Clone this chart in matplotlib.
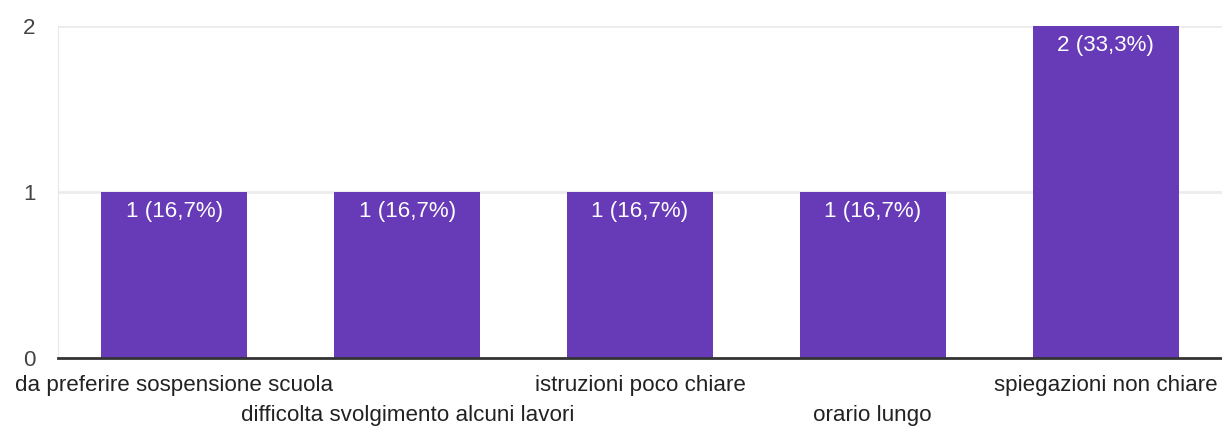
import matplotlib
matplotlib.use("Agg")
import matplotlib.pyplot as plt

categories = ["da preferire sospensione scuola", "difficolta svolgimento alcuni lavori",
              "istruzioni poco chiare", "orario lungo", "spiegazioni non chiare"]
values = [1, 1, 1, 1, 2]
labels = ["1 (16,7%)", "1 (16,7%)", "1 (16,7%)", "1 (16,7%)", "2 (33,3%)"]
yticks = [0, 1, 2]

plt.rcParams['font.family'] = ['Liberation Sans', 'DejaVu Sans']
fs = 16.1
fig = plt.figure(figsize=(12.22, 4.33), dpi=100)
ax = fig.add_axes([58/1222, 1-358/433, 1-58/1222, (358-26)/433])
x = list(range(len(categories)))
ax.bar(x, values, width=0.627, color="#673ab7", zorder=3)
ax.set_xlim(-0.5, len(categories)-0.5)
ax.set_ylim(0, 2)
ax.set_yticks(yticks)
ax.set_yticklabels([str(t) for t in yticks], fontsize=fs, color="#444444")
ax.tick_params(axis='y', length=0, pad=16)
ax.set_xticks([])
for s in ['top', 'right']:
    ax.spines[s].set_visible(False)
ax.spines['left'].set_color("#e8e8e8")
ax.spines['bottom'].set_color("#333333")
ax.spines['bottom'].set_linewidth(2)
ax.spines['bottom'].set_zorder(4)
for t in yticks[1:]:
    ax.axhline(t, color="#ececec", lw=2, zorder=1)
for i, (v, l) in enumerate(zip(values, labels)):
    ax.annotate(l, (i, v), xytext=(0, -20), textcoords='offset pixels', ha='center', va='center',
                color='white', fontsize=fs, zorder=5)
for i, c in enumerate(categories):
    off = -27 if i % 2 == 0 else -58
    ax.annotate(c, (i, 0), xytext=(0, off), textcoords='offset pixels', ha='center', va='center',
                color="#222222", fontsize=fs, annotation_clip=False)
fig.savefig("out.png", dpi=100)
